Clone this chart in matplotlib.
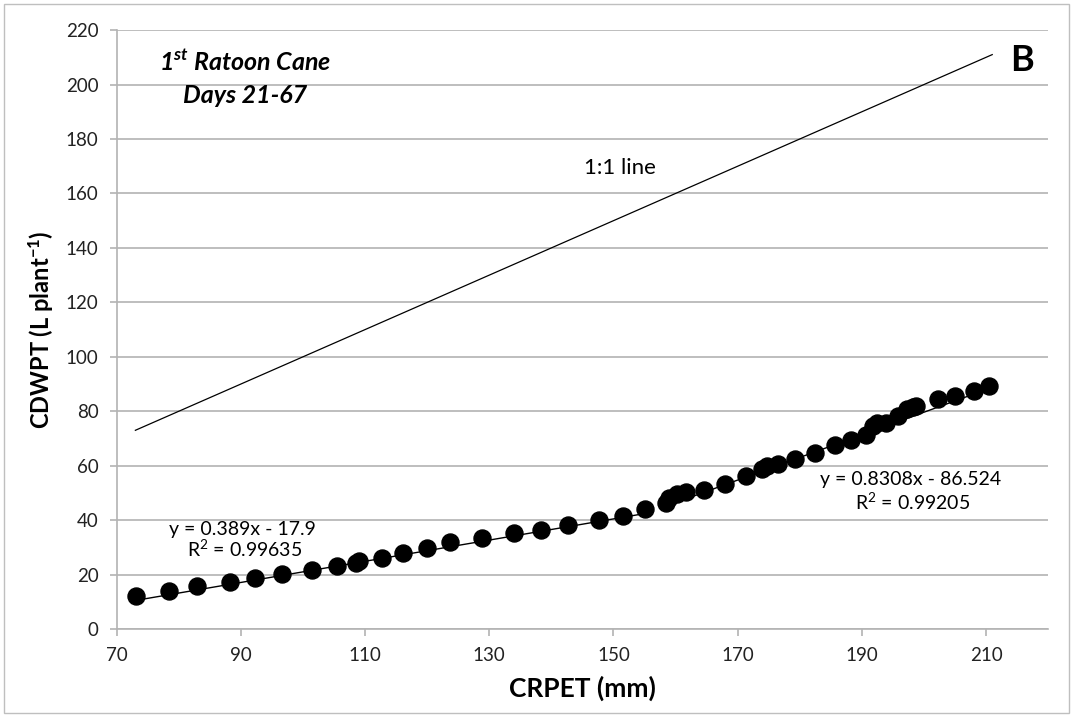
import numpy as np
import matplotlib
matplotlib.use('Agg')
import matplotlib.pyplot as plt
from matplotlib.patches import Rectangle

plt.rcParams['font.family'] = ['Lato', 'DejaVu Sans']
plt.rcParams['mathtext.fontset'] = 'custom'
plt.rcParams['mathtext.rm'] = 'Lato'
plt.rcParams['mathtext.it'] = 'Lato:italic'
plt.rcParams['mathtext.bf'] = 'Lato:bold'
plt.rcParams['mathtext.bfit'] = 'Lato:bold:italic'

# CRPET (mm) vs CDWPT (L plant-1), 1st ratoon cane, days 21-67
crpet = [73.1, 78.4, 83.0, 88.2, 92.2, 96.6, 101.4, 105.4, 108.5, 109.0,
         112.7, 116.1, 120.0, 123.7, 128.9, 134.0, 138.3, 142.7, 147.6, 151.5,
         155.0, 158.4, 159.0, 160.3, 161.7, 164.5, 167.9, 171.3, 174.0, 174.8,
         176.5, 179.2, 182.5, 185.7, 188.3, 190.7, 191.8, 192.5, 193.9, 195.9,
         197.2, 198.3, 198.8, 202.3, 205.0, 208.0, 210.5]
cdwpt = [12.1, 14.0, 15.8, 17.4, 18.6, 20.1, 21.7, 23.2, 24.3, 25.0,
         26.2, 28.0, 29.7, 31.8, 33.6, 35.4, 36.4, 38.2, 40.1, 41.5,
         44.0, 46.4, 48.0, 49.6, 50.3, 50.9, 53.3, 56.3, 58.7, 59.9,
         60.7, 62.4, 64.6, 67.6, 69.5, 71.3, 74.6, 75.6, 75.8, 78.3,
         80.8, 81.5, 82.0, 84.4, 85.7, 87.6, 89.3]

# fitted trend lines (slope, intercept) and their x ranges
fit1 = (0.389, -17.9)
fit1_range = (73.1, 155.0)
fit2 = (0.8308, -86.524)
fit2_range = (158.4, 210.5)
one_to_one = (73.0, 211.0)

fig = plt.figure(figsize=(10.73, 7.17), dpi=100)
ax = fig.add_axes([0.1088, 0.1227, 0.868, 0.8353])

# chart border
fig.patches.append(Rectangle((0.004, 0.006), 0.992, 0.988, transform=fig.transFigure,
                             fill=False, edgecolor='#bfbfbf', linewidth=1.0))

grid_col = '#b3b3b3'
ax.set_xlim(70, 220)
ax.set_ylim(0, 220)
ax.set_xticks(np.arange(70, 211, 20))
ax.set_yticks(np.arange(0, 221, 20))
ax.yaxis.grid(True, color=grid_col, linewidth=1.2)
ax.set_axisbelow(True)
for s in ['top', 'right']:
    ax.spines[s].set_visible(False)
for s in ['left', 'bottom']:
    ax.spines[s].set_color(grid_col)
    ax.spines[s].set_linewidth(1.2)
ax.tick_params(axis='both', direction='out', length=5, color=grid_col, width=1.2,
               labelsize=13.5, labelcolor='#222222', pad=8)

# 1:1 line
ax.plot(one_to_one, one_to_one, color='black', linewidth=0.9)

# trend lines
for (m, b), (x0, x1) in [(fit1, fit1_range), (fit2, fit2_range)]:
    xs = np.array([x0, x1])
    ax.plot(xs, m * xs + b, color='black', linewidth=1.0, zorder=2)

ax.scatter(crpet, cdwpt, s=150, color='black', zorder=3)

ax.set_xlabel('CRPET (mm)', fontsize=19, fontweight='bold', labelpad=8)
ax.set_ylabel(r'CDWPT (L plant$^{\mathbf{-1}}$)', fontsize=17, fontweight='bold', labelpad=8)

ax.text(90.6, 208.5, r'1$^{\mathbfit{st}}$ Ratoon Cane', fontsize=18, fontweight='bold',
        style='italic', ha='center', va='center')
ax.text(90.6, 196, 'Days 21-67', fontsize=18, fontweight='bold', style='italic',
        ha='center', va='center')
ax.text(215.8, 209, 'B', fontsize=26, fontweight='bold', ha='center', va='center')
ax.text(151.1, 169.5, '1:1 line', fontsize=16, ha='center', va='center')

ax.text(90.3, 36.4, 'y = 0.389x - 17.9', fontsize=14, ha='center', va='center')
ax.text(90.6, 29.4, r'R$^2$ = 0.99635', fontsize=14, ha='center', va='center')
ax.text(197.9, 55.1, 'y = 0.8308x - 86.524', fontsize=14, ha='center', va='center')
ax.text(198.2, 46.7, r'R$^2$ = 0.99205', fontsize=14, ha='center', va='center')

fig.savefig('out.png', dpi=100)
